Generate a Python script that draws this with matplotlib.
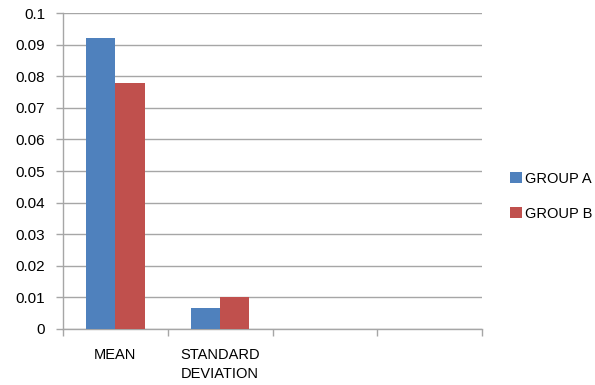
import matplotlib
matplotlib.use("Agg")
import matplotlib.pyplot as plt
import numpy as np

categories = ["MEAN", "STANDARD\nDEVIATION", "", ""]
group_a = [0.092, 0.0067, 0, 0]
group_b = [0.078, 0.010, 0, 0]
series_names = ["GROUP A", "GROUP B"]
y_ticks = [0, 0.01, 0.02, 0.03, 0.04, 0.05, 0.06, 0.07, 0.08, 0.09, 0.1]
y_tick_labels = ["0", "0.01", "0.02", "0.03", "0.04", "0.05", "0.06", "0.07", "0.08", "0.09", "0.1"]

plt.rcParams['font.family'] = ['Liberation Sans Narrow', 'Liberation Sans', 'DejaVu Sans']

fig = plt.figure(figsize=(5.95, 3.85), dpi=100)
ax = fig.add_axes([0.106, 0.1455, 0.704, 0.8205])

blue = "#4F81BD"
red = "#C0504D"
grid_c = "#A6A6A6"

x = np.arange(len(categories))
w = 0.28
ax.bar(x - w / 2, group_a, w, color=blue, label=series_names[0], zorder=3)
ax.bar(x + w / 2, group_b, w, color=red, label=series_names[1], zorder=3)

ax.set_xlim(-0.5, len(categories) - 0.5)
ax.set_ylim(0, 0.1)
ax.set_yticks(y_ticks)
ax.set_yticklabels(y_tick_labels, fontsize=11)
ax.yaxis.grid(True, color=grid_c, linewidth=1.0, zorder=0)
ax.set_axisbelow(True)

# category labels centered, ticks at the boundaries
ax.set_xticks(x)
ax.set_xticklabels(categories, fontsize=10.5, linespacing=1.45)
ax.tick_params(axis='x', length=0, pad=14)
ax.set_xticks(np.arange(len(categories) + 1) - 0.5, minor=True)
ax.tick_params(axis='x', which='minor', length=5, color=grid_c, width=1)
ax.tick_params(axis='y', length=5, color=grid_c, width=1, pad=8)

for side in ["top", "right"]:
    ax.spines[side].set_visible(False)
for side in ["left", "bottom"]:
    ax.spines[side].set_color(grid_c)
    ax.spines[side].set_linewidth(1.0)

leg = fig.legend(loc="center left", bbox_to_anchor=(0.835, 0.49), frameon=False,
                 fontsize=10.5, handlelength=0.8, handleheight=0.8, handletextpad=0.2,
                 labelspacing=1.45)

fig.savefig("out.png", dpi=100)
